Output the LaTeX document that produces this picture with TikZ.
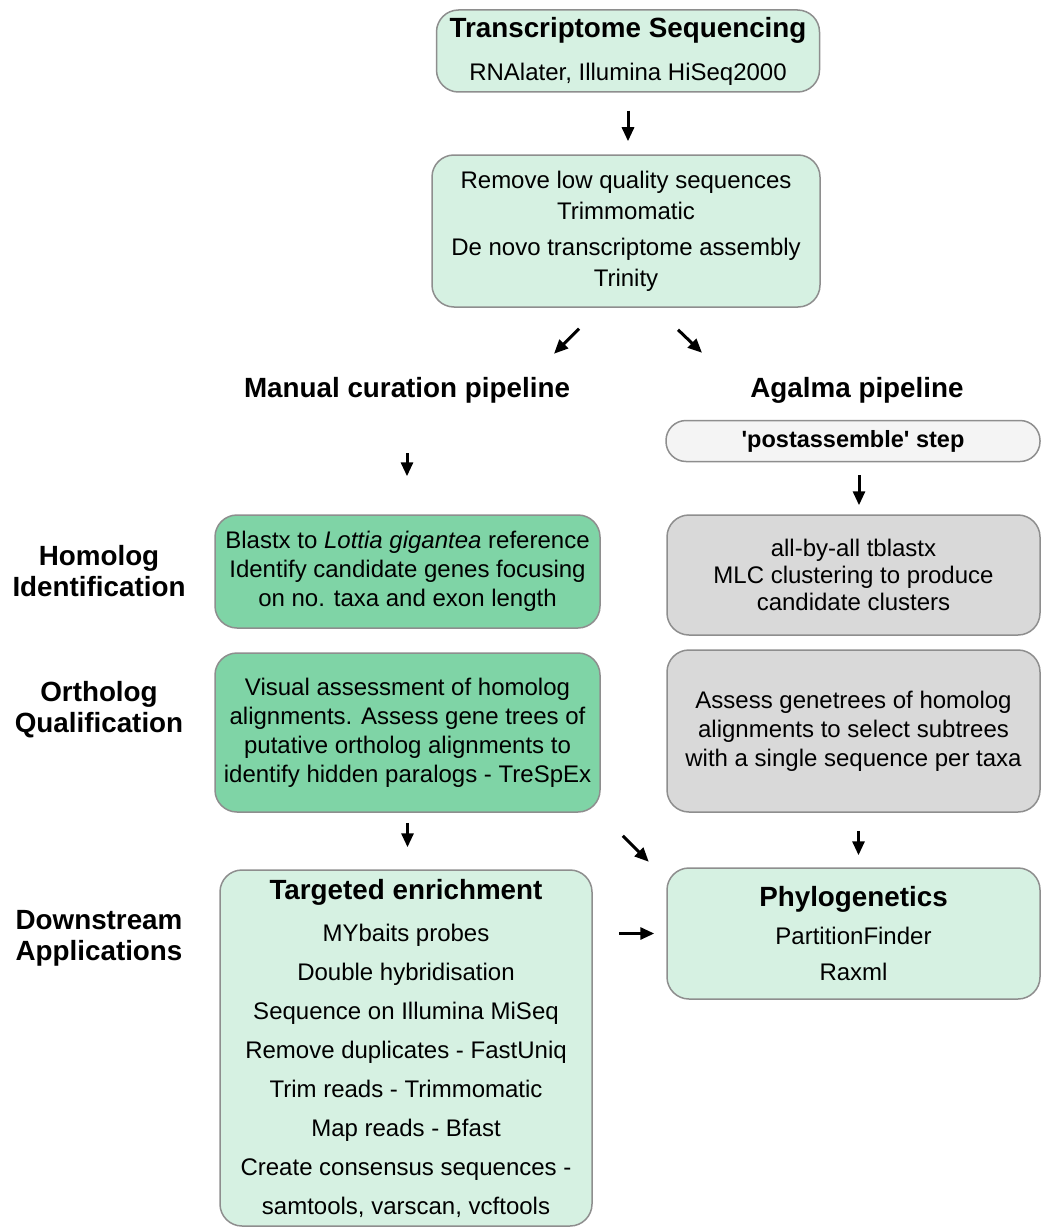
\documentclass[tikz,border=0pt]{standalone}
\usepackage{fontspec}
\setmainfont{Liberation Sans}
\usetikzlibrary{positioning, arrows.meta}
\definecolor{mint}{HTML}{D6F1E2}
\definecolor{leaf}{HTML}{7FD4A6}
\definecolor{stone}{HTML}{D9D9D9}
\definecolor{mist}{HTML}{F4F4F4}
\definecolor{rim}{HTML}{8E8E8E}
\newcommand{\hd}{\fontsize{27.8}{31}\selectfont\bfseries}

\begin{document}
\begin{tikzpicture}[x=1pt, y=-1pt,
  font=\fontsize{24}{29}\selectfont,
  stage/.style={draw=rim, line width=1.5pt, rounded corners=22pt,
                align=center, inner sep=0pt},
  pale/.style={stage, fill=mint, minimum width=383pt},
  leafy/.style={stage, fill=leaf, minimum width=385pt},
  grey/.style={stage, fill=stone, minimum width=373pt},
  rowlab/.style={font=\hd, align=center},
  arr/.style={-{Triangle[length=14pt, width=12pt]}, line width=3pt}]
  \useasboundingbox (0,0) rectangle (1041,1228);

  % assembly
  \node[pale, minimum height=82pt, font=\fontsize{24}{30}\selectfont] (seq) at (628,51)
        {{\hd Transcriptome Sequencing}\\[13pt]RNAlater, Illumina HiSeq2000};
  \node[pale, minimum width=388pt, minimum height=152pt,
        font=\fontsize{24}{31}\selectfont] (qc) at (626,231)
        {Remove low quality sequences\\Trimmomatic\\[5pt]
         De novo transcriptome assembly\\Trinity};

  % pipeline headers
  \node[font=\hd] (man) at (407,390) {Manual curation pipeline};
  \node[font=\hd] (aga) at (857,390) {Agalma pipeline};
  \node[stage, fill=mist, rounded corners=20pt, minimum width=374pt,
        minimum height=41pt, font=\fontsize{23.5}{26}\selectfont\bfseries] (post) at (853,441)
        {\textquotesingle postassemble\textquotesingle{} step};

  % row labels
  \node[rowlab] (homlab) at (99,571) {Homolog\\Identification};
  \node[rowlab] (ortlab) at (99,710) {Ortholog\\Qualification};
  \node[rowlab] (dwnlab) at (99,938) {Downstream\\Applications};

  % homolog / ortholog rows
  \node[leafy, minimum height=113pt] (homL) at (407.5,571.5)
        {Blastx to \textit{Lottia gigantea} reference\\
         Identify candidate genes focusing\\on no. taxa and exon length};
  \node[grey, minimum height=120pt, font=\fontsize{24}{27}\selectfont] (homR) at (853.5,575)
        {all-by-all tblastx\\MLC clustering to produce\\candidate clusters};
  \node[leafy, minimum height=159pt] (ortL) at (407.5,732.5)
        {Visual assessment of homolog\\alignments. Assess gene trees of\\
         putative ortholog alignments to\\identify hidden paralogs - TreSpEx};
  \node[grey, minimum height=162pt] (ortR) at (853.5,731)
        {Assess genetrees of homolog\\alignments to select subtrees\\
         with a single sequence per taxa};

  % applications
  \node[pale, minimum width=372pt, minimum height=356pt,
        font=\fontsize{24}{39}\selectfont] (enr) at (406,1048)
        {{\hd Targeted enrichment}\\[3pt]MYbaits probes\\Double hybridisation\\
         Sequence on Illumina MiSeq\\Remove duplicates - FastUniq\\
         Trim reads - Trimmomatic\\Map reads - Bfast\\
         Create consensus sequences -\\samtools, varscan, vcftools};
  \node[pale, minimum width=373pt, minimum height=131pt,
        font=\fontsize{24}{36}\selectfont] (phy) at (853.5,933.5)
        {{\hd Phylogenetics}\\[2pt]PartitionFinder\\Raxml};

  % arrows
  \draw[arr, shorten <=18pt, shorten >=13pt] (seq.south) -- (seq.south |- qc.north);
  \draw[arr] ([xshift=-47pt, yshift=-21pt]qc.south) -- ++(-25,25);
  \draw[arr] ([xshift=52pt, yshift=-22pt]qc.south) -- ++(24,23);
  \draw[arr, shorten <=63pt, shorten >=38pt] (man.center) -- (man.center |- homL.north);
  \draw[arr, shorten <=13pt, shorten >=9pt] ([xshift=6pt]post.south)
        -- ([xshift=6pt]post.south |- homR.north);
  \draw[arr, shorten <=10pt, shorten >=22pt] (ortL.south) -- (ortL.south |- enr.north);
  \draw[arr, shorten <=18pt, shorten >=12pt] ([xshift=5pt]ortR.south)
        -- ([xshift=5pt]ortR.south |- phy.north);
  \draw[arr] ([xshift=22pt, yshift=-23pt]ortL.south east) -- ++(26,26);
  \draw[arr, shorten <=26pt, shorten >=12pt] (enr.east |- phy.west) -- (phy.west);
\end{tikzpicture}
\end{document}
